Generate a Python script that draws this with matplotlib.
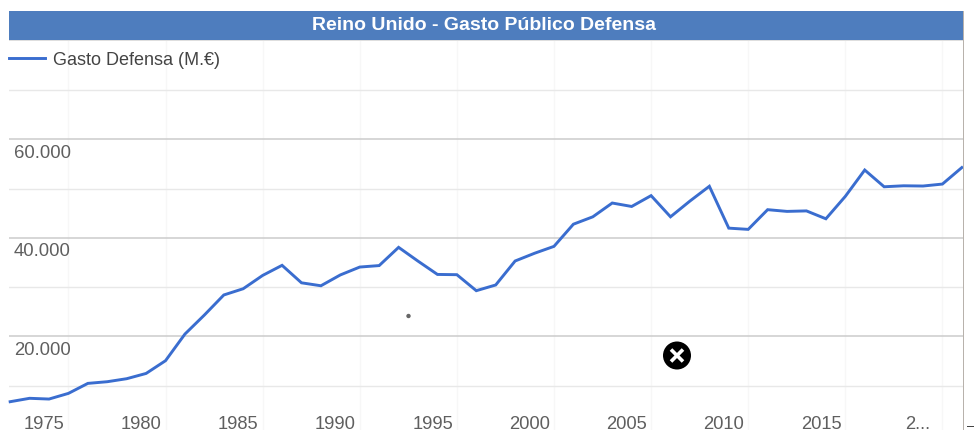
# -*- coding: utf-8 -*-
"""Reino Unido - Gasto Publico Defensa (serie anual, estilo Google Charts)."""
import matplotlib

matplotlib.use("Agg")
import matplotlib.pyplot as plt
from matplotlib.patches import Circle, Rectangle

plt.rcParams["font.family"] = ["Liberation Sans", "DejaVu Sans"]

TITLE = "Reino Unido - Gasto Público Defensa"
SERIES_NAME = "Gasto Defensa (M.€)"

YEARS = list(range(1973, 2023))
GASTO = [
    6760, 7450, 7300, 8450, 10480, 10820, 11430, 12500, 15090, 20500,
    24360, 28430, 29700, 32400, 34450, 30900, 30300, 32500, 34100, 34400,
    38100, 35300, 32600, 32550, 29300, 30460, 35330, 36900, 38300, 42800,
    44300, 47100, 46400, 48600, 44300, 47500, 50500, 42000, 41750, 45750,
    45400, 45500, 43900, 48450, 53800, 50400, 50600, 50550, 50950, 54300,
]

X_LABEL_YEARS = [1975, 1980, 1985, 1990, 1995, 2000, 2005, 2010, 2015, 2020]
X_LABELS = ["1975", "1980", "1985", "1990", "1995", "2000", "2005", "2010", "2015", "2..."]
X_GRID_YEARS = [1976, 1981, 1986, 1991, 1996, 2001, 2006, 2011, 2016, 2021]
Y_MAJOR = [20000, 40000, 60000]
Y_MINOR = [10000, 30000, 50000, 70000]
Y_LABELS = ["20.000", "40.000", "60.000"]

W, H = 974, 431
AX_LEFT, AX_RIGHT, AX_TOP, AX_BOTTOM = 9, 963, 41, 431


def fx(px):
    return px / W


def fy(py):
    return 1 - py / H


def main():
    fig = plt.figure(figsize=(W / 100, H / 100), dpi=100, facecolor="white")
    ax = fig.add_axes([fx(AX_LEFT), fy(AX_BOTTOM), (AX_RIGHT - AX_LEFT) / W, (AX_BOTTOM - AX_TOP) / H])
    ax.set_xlim(1972.94, 2022.06)
    ax.set_ylim(1015, 80200)

    for s in ax.spines.values():
        s.set_visible(False)
    ax.tick_params(length=0)

    for year in X_GRID_YEARS:
        ax.axvline(year, color="#f7f7f7", linewidth=1, zorder=1)
    for v in Y_MINOR:
        ax.axhline(v, color="#e8e8e8", linewidth=1, zorder=1)
    for v in Y_MAJOR:
        ax.axhline(v, color="#cbcbcb", linewidth=1.1, zorder=1)

    line, = ax.plot(YEARS, GASTO, color="#3a6dcf", linewidth=2.1, zorder=3, label=SERIES_NAME,
                    solid_joinstyle="miter", clip_on=False)

    # etiquetas del eje X dentro del area, desplazadas como en el original
    ax.set_xticks([])
    ax.set_yticks([])
    for year, label in zip(X_LABEL_YEARS, X_LABELS):
        ax.text(year - 0.25, 2400, label, ha="center", va="center", fontsize=13.2, color="#5f5f5f", zorder=4)
    for v, label in zip(Y_MAJOR, Y_LABELS):
        ax.text(1973.2, v - 2550, label, ha="left", va="center", fontsize=13.3, color="#5f5f5f", zorder=4)

    ax.legend(handles=[line], loc="upper left", bbox_to_anchor=(0, 0.972), frameon=False,
              fontsize=13, labelcolor="#444444", handlelength=2.0, handletextpad=0.44,
              borderaxespad=0, borderpad=0)

    # cabecera azul con el titulo
    fig.add_artist(Rectangle((fx(AX_LEFT), fy(41)), (AX_RIGHT - AX_LEFT) / W, 29 / H,
                             transform=fig.transFigure, facecolor="#4e7dbe", edgecolor="none"))
    fig.add_artist(Rectangle((fx(AX_LEFT), fy(42)), (AX_RIGHT - AX_LEFT) / W, 1 / H,
                             transform=fig.transFigure, facecolor="#dedede", edgecolor="none"))
    fig.text(fx(484.5), fy(26), TITLE, ha="center", va="center", fontsize=14, fontweight="bold", color="white")

    # borde derecho y raya de la esquina
    fig.add_artist(Rectangle((fx(963), 0), 1.2 / W, fy(12), transform=fig.transFigure,
                             facecolor="#b8b2ac", edgecolor="none"))
    fig.add_artist(Rectangle((fx(967), fy(428)), 7 / W, 1.2 / H, transform=fig.transFigure,
                             facecolor="#444444", edgecolor="none"))

    # restos de la captura: punto gris y boton de cerrar
    fig.add_artist(Circle((408.5, H - 317), 2.2, transform=None, facecolor="#666666", edgecolor="none"))
    fig.add_artist(Circle((677, H - 356.5), 14, transform=None, facecolor="black", edgecolor="none"))
    for dx in (-1, 1):
        fig.add_artist(plt.Line2D([677 - 6, 677 + 6], [H - 356.5 - 6 * dx, H - 356.5 + 6 * dx],
                                  transform=None, color="white", linewidth=2.6, solid_capstyle="butt"))

    fig.savefig("out.png", dpi=100)
    plt.close(fig)


if __name__ == "__main__":
    main()
